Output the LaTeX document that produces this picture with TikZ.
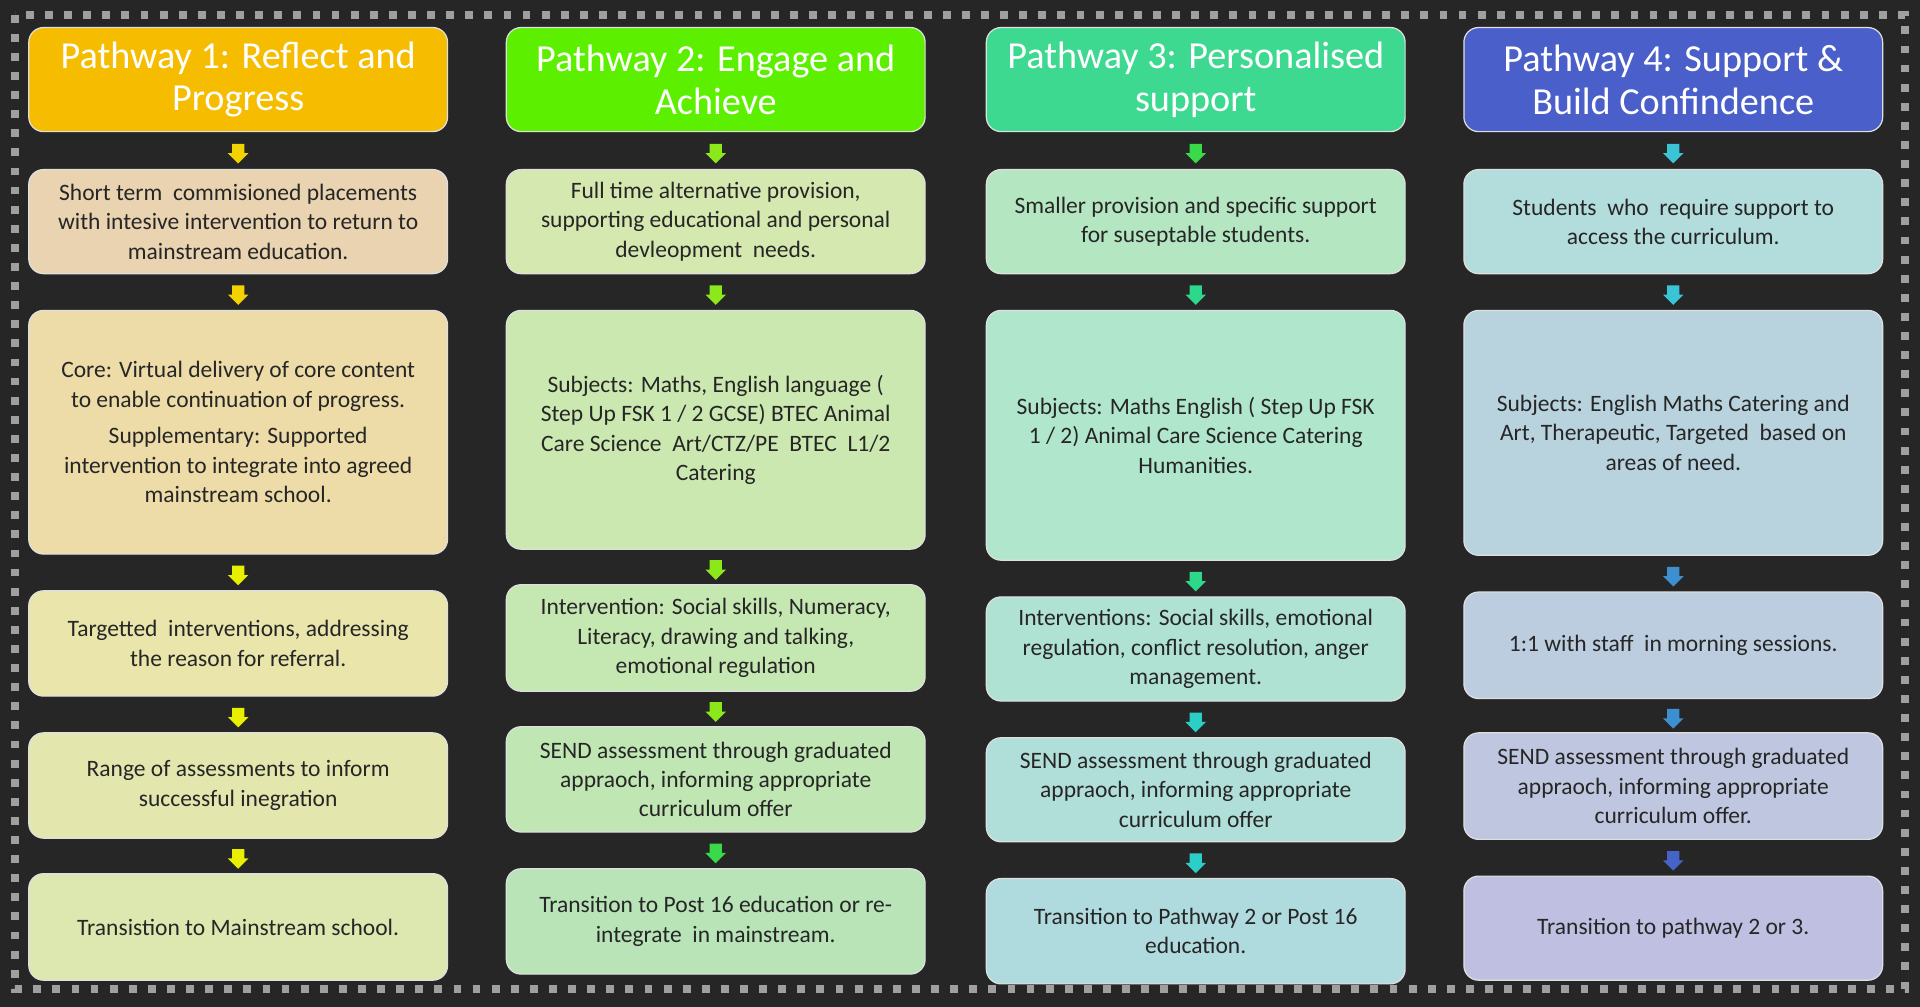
\documentclass[tikz,border=0pt]{standalone}
\usepackage{fontspec}
\setmainfont{Carlito}
\usetikzlibrary{shapes.arrows,calc}
\definecolor{bg}{HTML}{262626}
\definecolor{hA}{HTML}{F5BC00}\definecolor{hB}{HTML}{5CF000}\definecolor{hC}{HTML}{3DD990}\definecolor{hD}{HTML}{4A5FC9}
\definecolor{a1}{HTML}{E9D3B0}\definecolor{a2}{HTML}{EDDCA8}\definecolor{a3}{HTML}{E9E5AB}\definecolor{a4}{HTML}{E3E7AE}\definecolor{a5}{HTML}{DDE8B0}
\definecolor{b1}{HTML}{D5E8B0}\definecolor{b2}{HTML}{CBE8B0}\definecolor{b3}{HTML}{C5E7B1}\definecolor{b4}{HTML}{BFE6B3}\definecolor{b5}{HTML}{B8E4B8}
\definecolor{c1}{HTML}{B5E6C2}\definecolor{c2}{HTML}{B0E6CC}\definecolor{c3}{HTML}{B0E2D3}\definecolor{c4}{HTML}{B0DED8}\definecolor{c5}{HTML}{B0DBDE}
\definecolor{d1}{HTML}{B3DCDC}\definecolor{d2}{HTML}{B8D3DE}\definecolor{d3}{HTML}{BCCDDF}\definecolor{d4}{HTML}{BFC7E0}\definecolor{d5}{HTML}{BFC0E1}
\definecolor{ya}{HTML}{F2D200}\definecolor{yb}{HTML}{E8F000}\definecolor{ga}{HTML}{8BE81A}\definecolor{gb}{HTML}{3AD94A}
\definecolor{ta}{HTML}{2ED88A}\definecolor{tb}{HTML}{2CCFC8}\definecolor{ca}{HTML}{3BC3D6}\definecolor{cb}{HTML}{3E8FD0}\definecolor{cc}{HTML}{4563C8}
\begin{document}
\begin{tikzpicture}[x=0.5pt,y=-0.5pt,
 box/.style={draw=white!75!gray,line width=0.5pt,rounded corners=6pt,inner sep=0pt,align=center,text=black!85,font=\fontsize{9.6}{12}\selectfont,minimum width=171pt,anchor=north west},
 head/.style={box,text=white,font=\fontsize{15.6}{17.5}\selectfont},
 arr/.style={single arrow,shape border rotate=270,minimum height=8pt,inner sep=2.3pt,single arrow head extend=1.7pt,draw=none}]
\fill[bg] (0,0) rectangle (1568,822);
\draw[gray!75,line width=3.2pt,dash pattern=on 3.2pt off 4.6pt] (12,12) rectangle (1556,808);
% Column 1
\node[head,fill=hA,minimum height=42.5pt] (A0) at (23,22) {Pathway 1: Reflect and\\Progress};
\node[box,fill=a1,minimum height=42.5pt] (A1) at (23,138) {Short term \ commisioned placements\\with intesive intervention to return to\\mainstream education.};
\node[box,fill=a2,minimum height=99.5pt] (A2) at (23,253) {Core: Virtual delivery of core content\\to enable continuation of progress.\\[3pt]Supplementary: Supported\\intervention to integrate into agreed\\mainstream school.};
\node[box,fill=a3,minimum height=43pt] (A3) at (23,482) {Targetted \ interventions, addressing\\the reason for referral.};
\node[box,fill=a4,minimum height=43pt] (A4) at (23,598) {Range of assessments to inform\\successful inegration};
\node[box,fill=a5,minimum height=43.5pt] (A5) at (23,713) {Transistion to Mainstream school.};
% Column 2
\node[head,fill=hB,minimum height=42.5pt] (B0) at (413,22) {Pathway 2: Engage and\\Achieve};
\node[box,fill=b1,minimum height=42.5pt] (B1) at (413,138) {Full time alternative provision,\\supporting educational and personal\\devleopment \ needs.};
\node[box,fill=b2,minimum height=97.5pt] (B2) at (413,253) {Subjects: Maths, English language (\\Step Up FSK 1 / 2 GCSE) BTEC Animal\\Care Science \ Art/CTZ/PE \ BTEC \ L1/2\\Catering};
\node[box,fill=b3,minimum height=43.5pt] (B3) at (413,477) {Intervention: Social skills, Numeracy,\\Literacy, drawing and talking,\\emotional regulation};
\node[box,fill=b4,minimum height=43pt] (B4) at (413,593) {SEND assessment through graduated\\appraoch, informing appropriate\\curriculum offer};
\node[box,fill=b5,minimum height=43pt] (B5) at (413,709) {Transition to Post 16 education or re-\\integrate \ in mainstream.};
% Column 3
\node[head,fill=hC,minimum height=42.5pt] (C0) at (805,22) {Pathway 3: Personalised\\support};
\node[box,fill=c1,minimum height=42.5pt] (C1) at (805,138) {Smaller provision and specific support\\for suseptable students.};
\node[box,fill=c2,minimum height=102pt] (C2) at (805,253) {Subjects: Maths English ( Step Up FSK\\1 / 2) Animal Care Science Catering\\Humanities.};
\node[box,fill=c3,minimum height=42.5pt] (C3) at (805,487) {Interventions: Social skills, emotional\\regulation, conflict resolution, anger\\management.};
\node[box,fill=c4,minimum height=42.5pt] (C4) at (805,602) {SEND assessment through graduated\\appraoch, informing appropriate\\curriculum offer};
\node[box,fill=c5,minimum height=43pt] (C5) at (805,717) {Transition to Pathway 2 or Post 16\\education.};
% Column 4
\node[head,fill=hD,minimum height=42.5pt] (D0) at (1195,22) {Pathway 4: Support \&\\Build Confindence};
\node[box,fill=d1,minimum height=42.5pt] (D1) at (1195,138) {Students \ who \ require support to\\access the curriculum.};
\node[box,fill=d2,minimum height=100pt] (D2) at (1195,253) {Subjects: English Maths Catering and\\Art, Therapeutic, Targeted \ based on\\areas of need.};
\node[box,fill=d3,minimum height=43.5pt] (D3) at (1195,483) {1:1 with staff \ in morning sessions.};
\node[box,fill=d4,minimum height=43.5pt] (D4) at (1195,598) {SEND assessment through graduated\\appraoch, informing appropriate\\curriculum offer.};
\node[box,fill=d5,minimum height=42.5pt] (D5) at (1195,715) {Transition to pathway 2 or 3.};
% arrows
\foreach \col/\ca/\cb/\cc/\cd/\ce in {A/ya/ya/yb/yb/yb, B/ga/ga/ga/ga/gb, C/gb/ta/ta/tb/tb, D/ca/ca/cb/cb/cc}{
 \foreach \i/\j/\c in {0/1/\ca,1/2/\cb,2/3/\cc,3/4/\cd,4/5/\ce}{
  \node[arr,fill=\c] (\col\i\j) at ($(\col\i.south)!0.5!(\col\j.north)$) {};
 }
}
\end{tikzpicture}
\end{document}
